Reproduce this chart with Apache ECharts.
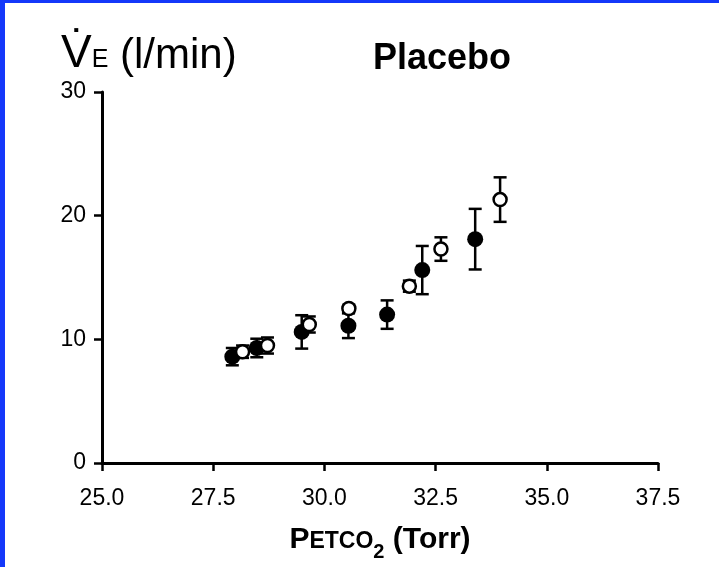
<!DOCTYPE html>
<html>
<head>
<meta charset="utf-8">
<script src="https://cdn.jsdelivr.net/npm/echarts@6/dist/echarts.min.js"></script>
<style>
  html, body { margin: 0; padding: 0; background: #fff; }
  #main { width: 719px; height: 567px; }
  .edgeTop { position: absolute; left: 0; top: 0; width: 719px; height: 3px; background: #1438fa; }
  .edgeLeft { position: absolute; left: 0; top: 0; width: 5px; height: 567px; background: #1438fa; }
</style>
</head>
<body>
<div id="main"></div>
<div class="edgeTop"></div>
<div class="edgeLeft"></div>
<script>
// Placebo, filled circles
var xClosed = [27.93, 28.48, 29.49, 30.54, 31.41, 32.20, 33.39];
var yClosed = [8.6, 9.3, 10.6, 11.1, 12.0, 15.6, 18.1];
var errClosed = [0.7, 0.75, 1.35, 1.0, 1.15, 1.95, 2.45];
// Placebo, open circles
var xOpen = [28.16, 28.72, 29.66, 30.55, 31.91, 32.62, 33.95];
var yOpen = [9.0, 9.5, 11.2, 12.5, 14.3, 17.3, 21.3];
var errOpen = [0.5, 0.65, 0.65, 0.3, 0.45, 0.95, 1.8];

var xTicks = { min: 25, max: 37.5, step: 2.5 };
var yTicks = { min: 0, max: 30, step: 10 };

var font = 'Liberation Sans, Arial, sans-serif';

function pairs(xs, ys, es) {
    var out = [];
    for (var i = 0; i < xs.length; i++) out.push([xs[i], ys[i], es[i]]);
    return out;
}

// vertical error bar with caps
function errorBar(params, api) {
    var x = api.value(0), y = api.value(1), e = api.value(2);
    var top = api.coord([x, y + e]);
    var bot = api.coord([x, y - e]);
    var w = 6.5;
    var st = { stroke: '#000', lineWidth: 2.5 };
    return {
        type: 'group',
        children: [
            { type: 'line', shape: { x1: top[0], y1: top[1], x2: bot[0], y2: bot[1] }, style: st },
            { type: 'line', shape: { x1: top[0] - w, y1: top[1], x2: top[0] + w, y2: top[1] }, style: st },
            { type: 'line', shape: { x1: bot[0] - w, y1: bot[1], x2: bot[0] + w, y2: bot[1] }, style: st }
        ]
    };
}

var myChart = echarts.init(document.getElementById('main'));

var option = {
    backgroundColor: '#fff',
    animation: false,
    title: [
        {
            left: 56, top: 18,
            text: '{v|V\u0307}{e|E}{p| (l/min)}',
            textStyle: {
                fontWeight: 'normal',
                rich: {
                    v: { fontFamily: font, fontSize: 46, fontWeight: 'normal', color: '#000', verticalAlign: 'bottom', lineHeight: 54 },
                    e: { fontFamily: font, fontSize: 25, fontWeight: 'normal', color: '#000', verticalAlign: 'bottom', lineHeight: 54, padding: [0, 0, 4, 0] },
                    p: { fontFamily: font, fontSize: 42, fontWeight: 'normal', color: '#000', verticalAlign: 'bottom', lineHeight: 54 }
                }
            }
        },
        {
            left: 368, top: 36,
            text: 'Placebo',
            textStyle: { fontFamily: font, fontSize: 36, fontWeight: 'bold', color: '#000' }
        }
    ],
    grid: { left: 102, right: 61, top: 92, bottom: 104, containLabel: false },
    xAxis: {
        type: 'value',
        min: xTicks.min, max: xTicks.max, interval: xTicks.step,
        splitLine: { show: false },
        axisLine: { show: true, onZero: false, lineStyle: { color: '#000', width: 3 } },
        axisTick: { show: true, length: 8, lineStyle: { color: '#000', width: 2.5 } },
        axisLabel: {
            fontFamily: font, fontSize: 23, color: '#000', margin: 24,
            formatter: function (v) { return v.toFixed(1); }
        },
        name: '{p|P}{s|ETCO}{sub|2}{p| (Torr)}',
        nameLocation: 'middle',
        nameGap: 56,
        nameTextStyle: {
            rich: {
                p: { fontFamily: font, fontSize: 30, fontWeight: 'bold', color: '#000', verticalAlign: 'bottom', lineHeight: 36 },
                s: { fontFamily: font, fontSize: 23, fontWeight: 'bold', color: '#000', verticalAlign: 'bottom', lineHeight: 36, padding: [0, 0, 2, 0] },
                sub: { fontFamily: font, fontSize: 20, fontWeight: 'bold', color: '#000', verticalAlign: 'bottom', lineHeight: 36, padding: [0, 0, -7, 0] }
            }
        }
    },
    yAxis: {
        type: 'value',
        min: yTicks.min, max: yTicks.max, interval: yTicks.step,
        splitLine: { show: false },
        axisLine: { show: true, onZero: false, lineStyle: { color: '#000', width: 3 } },
        axisTick: { show: true, length: 8, lineStyle: { color: '#000', width: 2.5 } },
        axisLabel: { fontFamily: font, fontSize: 23, color: '#000', margin: 16 }
    },
    series: [
        {
            type: 'custom', renderItem: errorBar,
            data: pairs(xClosed, yClosed, errClosed), z: 2
        },
        {
            type: 'scatter', symbol: 'circle', symbolSize: 16,
            itemStyle: { color: '#000', opacity: 1 },
            data: pairs(xClosed, yClosed, errClosed), z: 3
        },
        {
            type: 'custom', renderItem: errorBar,
            data: pairs(xOpen, yOpen, errOpen), z: 4
        },
        {
            type: 'scatter', symbol: 'circle', symbolSize: 13,
            itemStyle: { color: '#fff', borderColor: '#000', borderWidth: 2.5, opacity: 1 },
            data: pairs(xOpen, yOpen, errOpen), z: 5
        }
    ]
};

myChart.setOption(option);
</script>
</body>
</html>
